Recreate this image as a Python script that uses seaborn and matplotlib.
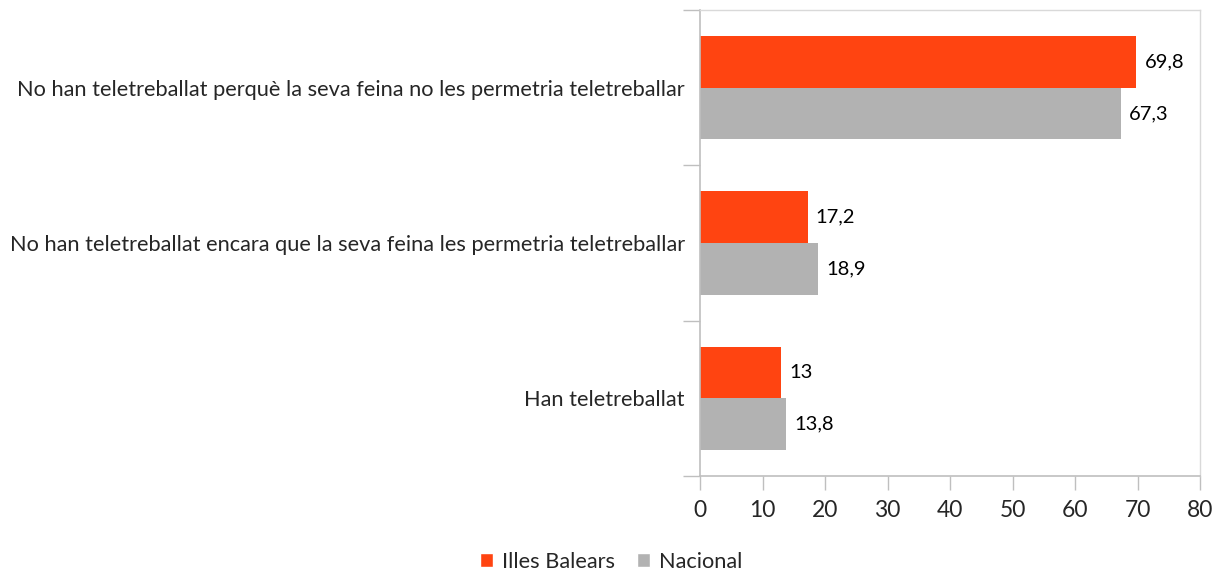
import matplotlib
matplotlib.use("Agg")
import matplotlib.pyplot as plt
import seaborn as sns
import pandas as pd
from matplotlib.patches import Patch

categories = [
    "No han teletreballat perquè la seva feina no les permetria teletreballar",
    "No han teletreballat encara que la seva feina les permetria teletreballar",
    "Han teletreballat",
]
series_names = ["Illes Balears", "Nacional"]
balears = [69.8, 17.2, 13]
nacional = [67.3, 18.9, 13.8]
x_ticks = [0, 10, 20, 30, 40, 50, 60, 70, 80]

colors = {"Illes Balears": "#FF4411", "Nacional": "#B2B2B2"}

df = pd.DataFrame({
    "categoria": categories * 2,
    "serie": [series_names[0]] * 3 + [series_names[1]] * 3,
    "valor": balears + nacional,
})

sns.set_theme(style="white")
plt.rcParams["font.family"] = ["Lato", "DejaVu Sans"]

fig = plt.figure(figsize=(12.2, 5.77), dpi=100)
ax = fig.add_axes([700 / 1220, 1 - 476 / 577, 500 / 1220, 466 / 577])

sns.barplot(data=df, x="valor", y="categoria", hue="serie", orient="h",
            palette=colors, width=0.667, saturation=1, linewidth=0,
            ax=ax, legend=False)

for cont in ax.containers:
    labels = [f"{v:g}".replace(".", ",") for v in cont.datavalues]
    ax.bar_label(cont, labels=labels, padding=6, fontsize=14.5, color="#000000")

ax.set_xlim(0, 80)
ax.set_ylim(2.5, -0.5)
ax.set_xticks(x_ticks)
ax.set_xlabel("")
ax.set_ylabel("")
ax.tick_params(axis="x", labelsize=16.5, length=10, width=1, color="#BFBFBF",
               pad=7, bottom=True)
ax.tick_params(axis="y", which="major", labelsize=15.7, length=0, pad=11)
ax.set_yticks([-0.5, 0.5, 1.5, 2.5], minor=True)
ax.tick_params(axis="y", which="minor", length=12, width=1, color="#BFBFBF", left=True)

for side in ["left", "bottom"]:
    ax.spines[side].set_color("#BFBFBF")
    ax.spines[side].set_linewidth(1.2)
for side in ["top", "right"]:
    ax.spines[side].set_visible(True)
    ax.spines[side].set_color("#D9D9D9")
    ax.spines[side].set_linewidth(1)

handles = [Patch(facecolor=colors[s], label=s) for s in series_names]
fig.legend(handles=handles, loc="center", bbox_to_anchor=(611 / 1220, 1 - 562 / 577),
           ncol=2, frameon=False, fontsize=15.7, handlelength=0.6, handleheight=0.6,
           handletextpad=0.4, columnspacing=1.0)

fig.savefig("out.png", dpi=100)
